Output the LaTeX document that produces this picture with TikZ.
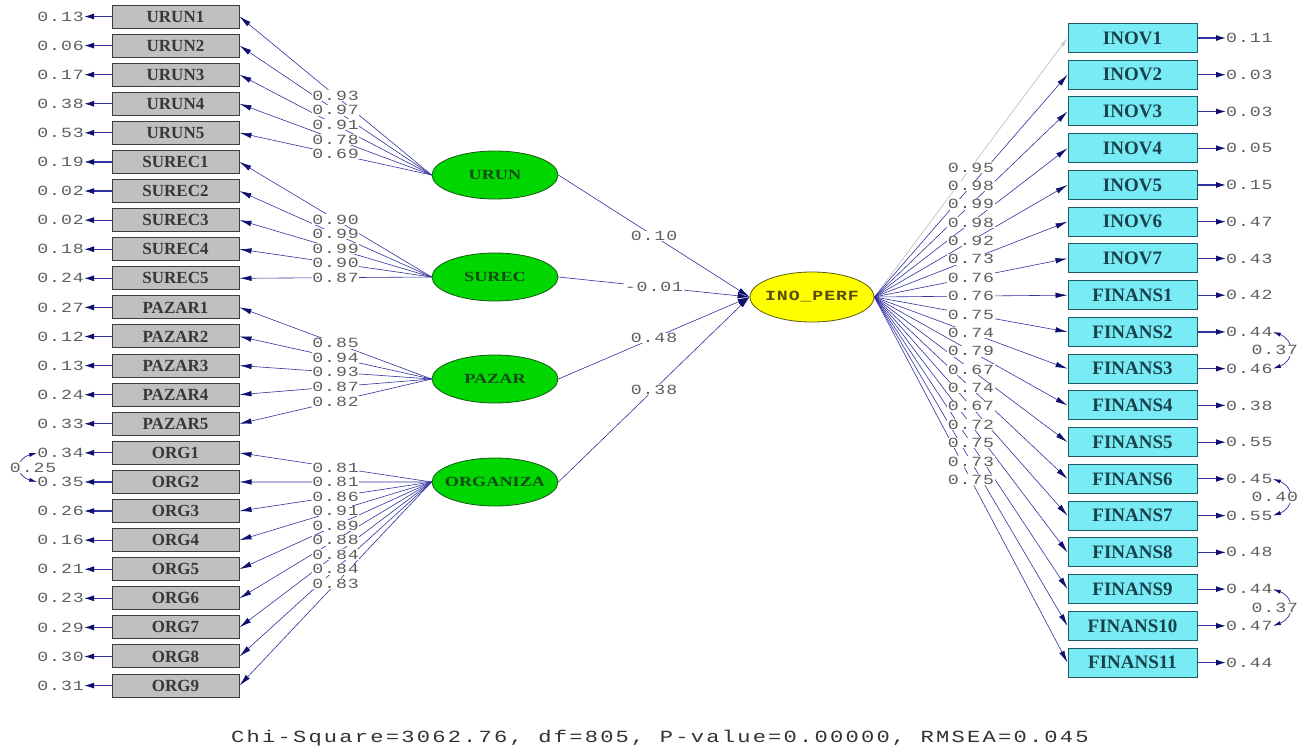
\documentclass[tikz,border=0pt]{standalone}
\usepackage{fontspec}
\usepackage{graphicx}
\usetikzlibrary{arrows.meta,shapes.geometric,calc}
\setmainfont{Liberation Serif}
\newfontfamily\monofam[LetterSpace=5]{Liberation Mono}
\newfontfamily\chifam[LetterSpace=10]{Liberation Mono}
\definecolor{lineblue}{RGB}{50,50,160}
\definecolor{tipblue}{RGB}{15,15,110}
\definecolor{numgrey}{RGB}{95,95,95}
\definecolor{boxgrey}{RGB}{192,192,192}
\definecolor{boxedge}{RGB}{60,60,60}
\definecolor{cyanbox}{RGB}{120,235,245}
\definecolor{cyanedge}{RGB}{30,90,100}
\definecolor{latgreen}{RGB}{0,215,0}
\definecolor{latedge}{RGB}{20,90,20}
\definecolor{lattext}{RGB}{20,75,20}
\definecolor{inoyellow}{RGB}{255,255,0}
\definecolor{inoedge}{RGB}{90,90,20}
\definecolor{inotext}{RGB}{90,75,10}
\definecolor{rtext}{RGB}{25,65,75}
\definecolor{ltext}{RGB}{55,55,55}
\definecolor{fixgrey}{RGB}{200,200,200}
\definecolor{fittext}{RGB}{50,50,50}
\newcommand{\numtxt}[1]{\scalebox{1.3}[1]{\monofam\fontsize{14}{16}\selectfont #1}}
\newcommand{\lattxt}[1]{\makebox[0pt]{\scalebox{1.3}[1]{\bfseries\fontsize{14}{16}\selectfont #1}}}
\tikzset{
  lbox/.style={draw=boxedge, line width=1pt, fill=boxgrey, minimum width=127pt, minimum height=23pt, inner sep=0pt, font=\bfseries\fontsize{17}{18}\selectfont, text=ltext},
  rbox/.style={draw=cyanedge, line width=1pt, fill=cyanbox, minimum width=129pt, minimum height=29pt, inner sep=0pt, font=\bfseries\fontsize{19}{20}\selectfont, text=rtext},
  latent/.style={ellipse, draw=latedge, line width=0.8pt, fill=latgreen, minimum width=126pt, minimum height=48pt, inner sep=0pt, text=lattext},
  inolat/.style={ellipse, draw=inoedge, line width=0.8pt, fill=inoyellow, minimum width=124pt, minimum height=50pt, inner sep=0pt, text=inotext},
  load/.style={draw=lineblue, line width=0.6pt, -{Latex[length=12pt,width=5.5pt,color=tipblue]}},
  fixload/.style={draw=fixgrey, line width=0.8pt, -{Latex[length=9pt,width=4pt,color=fixgrey]}},
  errarr/.style={draw=lineblue, line width=1.2pt, -{Latex[length=10pt,width=6pt,color=tipblue]}},
  cov/.style={draw=lineblue, line width=0.7pt, {Latex[length=8pt,width=4pt,color=tipblue]}-{Latex[length=8pt,width=4pt,color=tipblue]}},
  lbl/.style={fill=white, inner sep=0.6pt, text=numgrey},
  errlbl/.style={inner sep=0pt, text=numgrey},
}
\begin{document}
\begin{tikzpicture}[x=1pt,y=-1pt]
\useasboundingbox (0,0) rectangle (1310,753);
\fill[white] (0,0) rectangle (1310,753);

% latent variables
\node[latent] (URUN) at (495,175) {\lattxt{URUN}};
\node[latent] (SUREC) at (495,277) {\lattxt{SUREC}};
\node[latent] (PAZAR) at (495,379) {\lattxt{PAZAR}};
\node[latent] (ORGANIZA) at (495,482) {\lattxt{ORGANIZA}};
\node[inolat] (INO) at (812,297) {\makebox[0pt]{\scalebox{1.3}[1]{\monofam\bfseries\fontsize{14}{16}\selectfont INO\_PERF}}};

% left indicators
\foreach \n/\e/\f [count=\i from 0] in {URUN1/0.13/URUN,URUN2/0.06/URUN,URUN3/0.17/URUN,URUN4/0.38/URUN,URUN5/0.53/URUN,
  SUREC1/0.19/SUREC,SUREC2/0.02/SUREC,SUREC3/0.02/SUREC,SUREC4/0.18/SUREC,SUREC5/0.24/SUREC,
  PAZAR1/0.27/PAZAR,PAZAR2/0.12/PAZAR,PAZAR3/0.13/PAZAR,PAZAR4/0.24/PAZAR,PAZAR5/0.33/PAZAR,
  ORG1/0.34/ORGANIZA,ORG2/0.35/ORGANIZA,ORG3/0.26/ORGANIZA,ORG4/0.16/ORGANIZA,ORG5/0.21/ORGANIZA,
  ORG6/0.23/ORGANIZA,ORG7/0.29/ORGANIZA,ORG8/0.30/ORGANIZA,ORG9/0.31/ORGANIZA}{
  \node[lbox] (L\i) at (175.5,{16.5+29.09*\i}) {\n};
  \node[errlbl, anchor=east] (eL\i) at (84,{16.5+29.09*\i}) {\numtxt{\e}};
  \draw[errarr] (L\i.west) -- (eL\i.east);
  \draw[load] (\f.west) -- (L\i.east);
}
% left loading labels
\foreach \l/\f [count=\i from 0] in {0.93/URUN,0.97/URUN,0.91/URUN,0.78/URUN,0.69/URUN,
  0.90/SUREC,0.99/SUREC,0.99/SUREC,0.90/SUREC,0.87/SUREC,
  0.85/PAZAR,0.94/PAZAR,0.93/PAZAR,0.87/PAZAR,0.82/PAZAR,
  0.81/ORGANIZA,0.81/ORGANIZA,0.86/ORGANIZA,0.91/ORGANIZA,0.89/ORGANIZA,
  0.88/ORGANIZA,0.84/ORGANIZA,0.84/ORGANIZA,0.83/ORGANIZA}{
  \path (\f.west) -- node[lbl] {\numtxt{\l}} (L\i.east);
}

% right indicators
\foreach \n/\e [count=\j from 0] in {INOV1/0.11,INOV2/0.03,INOV3/0.03,INOV4/0.05,INOV5/0.15,INOV6/0.47,INOV7/0.43,
  FINANS1/0.42,FINANS2/0.44,FINANS3/0.46,FINANS4/0.38,FINANS5/0.55,FINANS6/0.45,FINANS7/0.55,
  FINANS8/0.48,FINANS9/0.44,FINANS10/0.47,FINANS11/0.44}{
  \node[rbox] (R\j) at (1132.5,{38+36.74*\j}) {\n};
  \node[errlbl, anchor=west] (eR\j) at (1226,{38+36.74*\j}) {\numtxt{\e}};
  \draw[errarr] (R\j.east) -- (eR\j.west);
}
\draw[fixload] (INO.east) -- (R0.west);
\foreach \j in {1,...,17}{
  \draw[load] (INO.east) -- (R\j.west);
}
\foreach \l [count=\j from 0] in {0.95,0.98,0.99,0.98,0.92,0.73,0.76,0.76,0.75,0.74,0.79,0.67,0.74,0.67,0.72,0.75,0.73,0.75}{
  \path (INO.east) -- node[lbl] {\numtxt{\l}} (R\j.west);
}

% structural paths
\draw[load] (URUN.east) -- node[lbl] {\numtxt{0.10}} (INO.west);
\draw[load] (SUREC.east) -- node[lbl] {\numtxt{-0.01}} (INO.west);
\draw[load] (PAZAR.east) -- node[lbl] {\numtxt{0.48}} (INO.west);
\draw[load] (ORGANIZA.east) -- node[lbl] {\numtxt{0.38}} (INO.west);

% error covariances
\draw[cov] (eR8.east) .. controls +(22,8) and +(22,-8) .. (eR9.east);
\node[lbl] (c1) at ($(eR8.east)!0.5!(eR9.east)+(2,0)$) {\numtxt{0.37}};
\draw[cov] (eR12.east) .. controls +(22,8) and +(22,-8) .. (eR13.east);
\node[lbl] (c2) at ($(eR12.east)!0.5!(eR13.east)+(2,0)$) {\numtxt{0.40}};
\draw[cov] (eR15.east) .. controls +(22,8) and +(22,-8) .. (eR16.east);
\node[lbl] (c3) at ($(eR15.east)!0.5!(eR16.east)+(2,0)$) {\numtxt{0.37}};
\draw[cov] (eL15.west) .. controls +(-22,6) and +(-22,-6) .. (eL16.west);
\node[lbl] (c4) at ($(eL15.west)!0.5!(eL16.west)+(-4,0)$) {\numtxt{0.25}};

% fit statistics
\node[text=fittext] (fitstat) at (660,738) {\scalebox{1.3}[1]{\chifam\fontsize{17}{19}\selectfont Chi-Square=3062.76, df=805, P-value=0.00000, RMSEA=0.045}};
\end{tikzpicture}
\end{document}
